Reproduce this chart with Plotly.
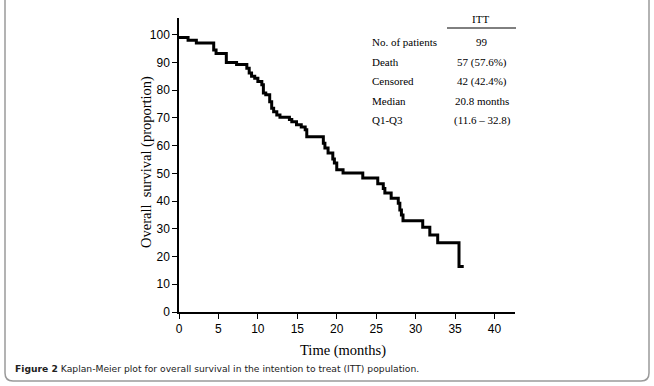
import plotly.graph_objects as go

# Kaplan-Meier step data (time in months, survival %)
times = [0, 1.15, 2.2, 4.4, 4.7, 6.0, 7.3, 8.6, 8.9, 9.2, 9.6, 10.0, 10.5, 10.7, 11.0, 11.5,
         11.75, 12.0, 12.4, 12.8, 14.0, 14.3, 14.9, 15.5, 16.0, 16.2, 18.3, 18.5, 18.9, 19.5,
         19.7, 20.0, 20.8, 23.3, 25.2, 25.9, 26.1, 26.9, 27.8, 28.0, 28.2, 28.4, 30.9, 31.8,
         32.8, 35.5, 36.1]
survival = [99.0, 98.0, 97.0, 94.5, 93.2, 90.0, 89.2, 87.9, 86.2, 85.0, 84.3, 83.1, 81.9, 79.0,
            78.3, 75.8, 73.5, 72.2, 71.0, 70.2, 69.4, 68.6, 67.5, 66.7, 65.7, 63.2, 60.8, 59.1,
            57.3, 55.2, 53.7, 51.3, 50.1, 48.3, 46.2, 44.5, 42.9, 41.0, 39.2, 36.8, 35.0, 32.9,
            30.6, 27.8, 25.0, 16.4, 16.4]

x_ticks = [0, 5, 10, 15, 20, 25, 30, 35, 40]
y_ticks = [0, 10, 20, 30, 40, 50, 60, 70, 80, 90, 100]

table_header = "ITT"
table_labels = ["No. of patients", "Death", "Censored", "Median", "Q1-Q3"]
table_values = ["99", "57 (57.6%)", "42 (42.4%)", "20.8 months", "(11.6 – 32.8)"]

caption_bold = "Figure 2"
caption_text = " Kaplan-Meier plot for overall survival in the intention to treat (ITT) population."

W, H = 654, 386
L, R, T, B = 179, 515, 18, 312  # plot area in pixels


def px(x):
    return (x - L) / (R - L)


def py(y):
    return (B - y) / (B - T)


fig = go.Figure()
fig.add_trace(go.Scatter(x=times, y=survival, mode="lines", line_shape="hv",
                         line=dict(color="black", width=3), showlegend=False,
                         hoverinfo="skip"))

tick_font = dict(family="Liberation Sans Narrow, Liberation Sans, Arial", size=12, color="black")
serif = "Liberation Serif, Times New Roman, serif"

fig.update_xaxes(range=[0, 42.6], tickvals=x_ticks, ticks="outside", ticklen=5, tickwidth=1.2,
                 tickcolor="black", showline=True, linecolor="black", linewidth=1.5,
                 showgrid=False, zeroline=False, tickfont=tick_font)
fig.update_yaxes(range=[0, 106], tickvals=y_ticks, ticks="outside", ticklen=5, tickwidth=1.2,
                 tickcolor="black", showline=True, linecolor="black", linewidth=1.5,
                 showgrid=False, zeroline=False, tickfont=tick_font)

annotations = []
annotations.append(dict(x=px(343), y=py(350), xref="paper", yref="paper", text="Time (months)",
                        showarrow=False, font=dict(family=serif, size=14.5, color="black"),
                        xanchor="center", yanchor="middle"))
annotations.append(dict(x=px(146), y=py(162), xref="paper", yref="paper",
                        text="Overall\u00a0 survival (proportion)", textangle=-90,
                        showarrow=False, font=dict(family=serif, size=14.5, color="black"),
                        xanchor="center", yanchor="middle"))

# table
tcol_val = 482
annotations.append(dict(x=px(480), y=py(19), xref="paper", yref="paper", text=table_header,
                        showarrow=False, font=dict(family=serif, size=11, color="black"),
                        xanchor="center", yanchor="middle"))
row_y = [42, 62, 81, 101, 120]
for lab, val, ry in zip(table_labels, table_values, row_y):
    annotations.append(dict(x=px(370), y=py(ry), xref="paper", yref="paper", text=lab,
                            showarrow=False, font=dict(family=serif, size=11, color="black"),
                            xanchor="left", yanchor="middle"))
    annotations.append(dict(x=px(tcol_val), y=py(ry), xref="paper", yref="paper", text=val,
                            showarrow=False, font=dict(family=serif, size=11, color="black"),
                            xanchor="center", yanchor="middle"))

annotations.append(dict(x=px(13), y=py(369), xref="paper", yref="paper",
                        text="<b>" + caption_bold + "</b>" + caption_text,
                        showarrow=False, font=dict(family="DejaVu Sans, Verdana", size=9.2, color="#222222"),
                        xanchor="left", yanchor="middle"))

shapes = []
shapes.append(dict(type="line", xref="paper", yref="paper", x0=px(447), x1=px(516),
                   y0=py(28), y1=py(28), line=dict(color="black", width=1)))

# rounded border
x0b, x1b, y0b, y1b, r = 5, 649, -10, 381, 8
path = (f"M {px(x0b)},{py(y0b)} L {px(x0b)},{py(y1b - r)} "
        f"Q {px(x0b)},{py(y1b)} {px(x0b + r)},{py(y1b)} "
        f"L {px(x1b - r)},{py(y1b)} Q {px(x1b)},{py(y1b)} {px(x1b)},{py(y1b - r)} "
        f"L {px(x1b)},{py(y0b)}")
shapes.append(dict(type="path", xref="paper", yref="paper", path=path,
                   line=dict(color="#9a9a9a", width=1.5)))

fig.update_layout(width=W, height=H, margin=dict(l=L, r=W - R, t=T, b=H - B, autoexpand=False),
                  paper_bgcolor="white", plot_bgcolor="white",
                  annotations=annotations, shapes=shapes)

fig.write_html("out.html", config={"displayModeBar": False},
               post_script="document.body.style.margin='0';")
